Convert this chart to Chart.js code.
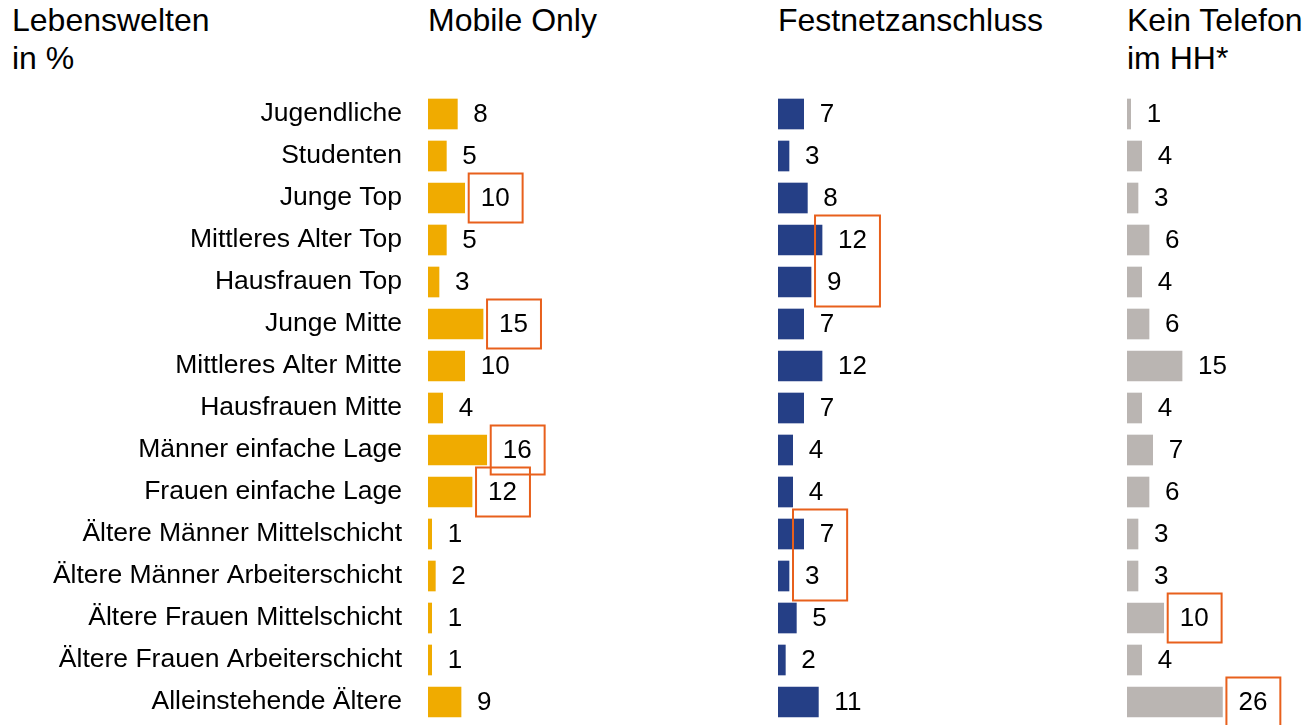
<!DOCTYPE html>
<html>
<head>
<meta charset="utf-8">
<script src="https://cdn.jsdelivr.net/npm/chart.js@4"></script>
<style>
  html, body { margin: 0; padding: 0; background: #fff; overflow: hidden; }
  body { width: 1305px; height: 725px; position: relative; font-family: "Liberation Sans", Arial, sans-serif; color: #000; }
  .head { position: absolute; top: 1px; font-size: 32px; line-height: 38px; white-space: nowrap; }
  canvas { position: absolute; top: 93px; }
</style>
</head>
<body>
<div class="head" style="left:12px">Lebenswelten<br>in %</div>
<div class="head" style="left:428px">Mobile Only</div>
<div class="head" style="left:778px">Festnetzanschluss</div>
<div class="head" style="left:1127px">Kein Telefon<br>im HH*</div>

<canvas id="c1" width="700" height="640" style="left:0px"></canvas>
<canvas id="c2" width="300" height="640" style="left:778px"></canvas>
<canvas id="c3" width="178" height="640" style="left:1127px"></canvas>

<script>
const categories = [
    'Jugendliche', 'Studenten', 'Junge Top', 'Mittleres Alter Top', 'Hausfrauen Top',
    'Junge Mitte', 'Mittleres Alter Mitte', 'Hausfrauen Mitte', 'Männer einfache Lage',
    'Frauen einfache Lage', 'Ältere Männer Mittelschicht', 'Ältere Männer Arbeiterschicht',
    'Ältere Frauen Mittelschicht', 'Ältere Frauen Arbeiterschicht', 'Alleinstehende Ältere'
];
const mobileOnly  = [8, 5, 10, 5, 3, 15, 10, 4, 16, 12, 1, 2, 1, 1, 9];
const festnetz    = [7, 3, 8, 12, 9, 7, 12, 7, 4, 4, 7, 3, 5, 2, 11];
const keinTelefon = [1, 4, 3, 6, 4, 6, 15, 4, 7, 6, 3, 3, 10, 4, 26];

// highlighted rows (first..last index) per panel
const mobileBoxes   = [[2, 2], [5, 5], [8, 8], [9, 9]];
const festnetzBoxes = [[3, 4], [10, 11]];
const keinBoxes     = [[12, 12], [14, 14]];

const COLORS = {
    mobile: '#F0AB00',
    festnetz: '#253F86',
    kein: '#BAB5B2',
    box: '#E8601C',
    text: '#000000'
};
const FONT = "'Liberation Sans', Arial, sans-serif";
const PX_PER_UNIT = 3.67;
const LABEL_AXIS_WIDTH = 428;

Chart.defaults.font.family = FONT;
Chart.defaults.color = COLORS.text;

// value labels next to each bar plus the orange highlight boxes
const valueLabels = {
    id: 'valueLabels',
    afterDatasetsDraw(chart, args, opts) {
        const ctx = chart.ctx;
        const meta = chart.getDatasetMeta(0);
        const values = chart.data.datasets[0].data;
        const spots = [];
        ctx.save();
        ctx.font = '26px ' + FONT;
        ctx.fillStyle = COLORS.text;
        ctx.textAlign = 'left';
        ctx.textBaseline = 'middle';
        meta.data.forEach((bar, i) => {
            const txt = String(values[i]);
            const x = bar.x + 16;
            ctx.fillText(txt, x, bar.y + 1);
            spots.push({ left: x, right: x + ctx.measureText(txt).width, y: bar.y });
        });
        ctx.strokeStyle = COLORS.box;
        ctx.lineWidth = 2;
        (opts.boxes || []).forEach(([a, b]) => {
            const rows = spots.slice(a, b + 1);
            const left = Math.min(...rows.map(r => r.left)) - 12;
            const right = Math.max(...rows.map(r => r.right)) + 13;
            const top = rows[0].y - 24.5;
            const bottom = rows[rows.length - 1].y + 24.5;
            ctx.strokeRect(left, top, right - left, bottom - top);
        });
        ctx.restore();
    }
};

function makePanel(id, values, color, boxes, showLabels) {
    const canvas = document.getElementById(id);
    const plotWidth = canvas.width - (showLabels ? LABEL_AXIS_WIDTH : 0);
    const yAxis = {
        display: showLabels,
        grid: { display: false, drawTicks: false },
        border: { display: false },
        ticks: {
            padding: 26,
            color: COLORS.text,
            font: { size: 26.5, family: FONT }
        }
    };
    if (showLabels) {
        yAxis.afterFit = (scale) => {
            scale.width = LABEL_AXIS_WIDTH;
            scale.paddingTop = 0;
            scale.paddingBottom = 0;
        };
    }
    return new Chart(canvas, {
        type: 'bar',
        data: {
            labels: categories,
            datasets: [{
                data: values,
                backgroundColor: color,
                borderWidth: 0,
                barThickness: 30
            }]
        },
        options: {
            indexAxis: 'y',
            responsive: false,
            animation: false,
            devicePixelRatio: 1,
            layout: { padding: { top: 0, bottom: 10, left: 0, right: 0 } },
            plugins: {
                legend: { display: false },
                tooltip: { enabled: false },
                valueLabels: { boxes: boxes }
            },
            scales: {
                x: {
                    display: false,
                    min: 0,
                    max: plotWidth / PX_PER_UNIT
                },
                y: yAxis
            }
        },
        plugins: [valueLabels]
    });
}

makePanel('c1', mobileOnly, COLORS.mobile, mobileBoxes, true);
makePanel('c2', festnetz, COLORS.festnetz, festnetzBoxes, false);
makePanel('c3', keinTelefon, COLORS.kein, keinBoxes, false);
</script>
</body>
</html>
